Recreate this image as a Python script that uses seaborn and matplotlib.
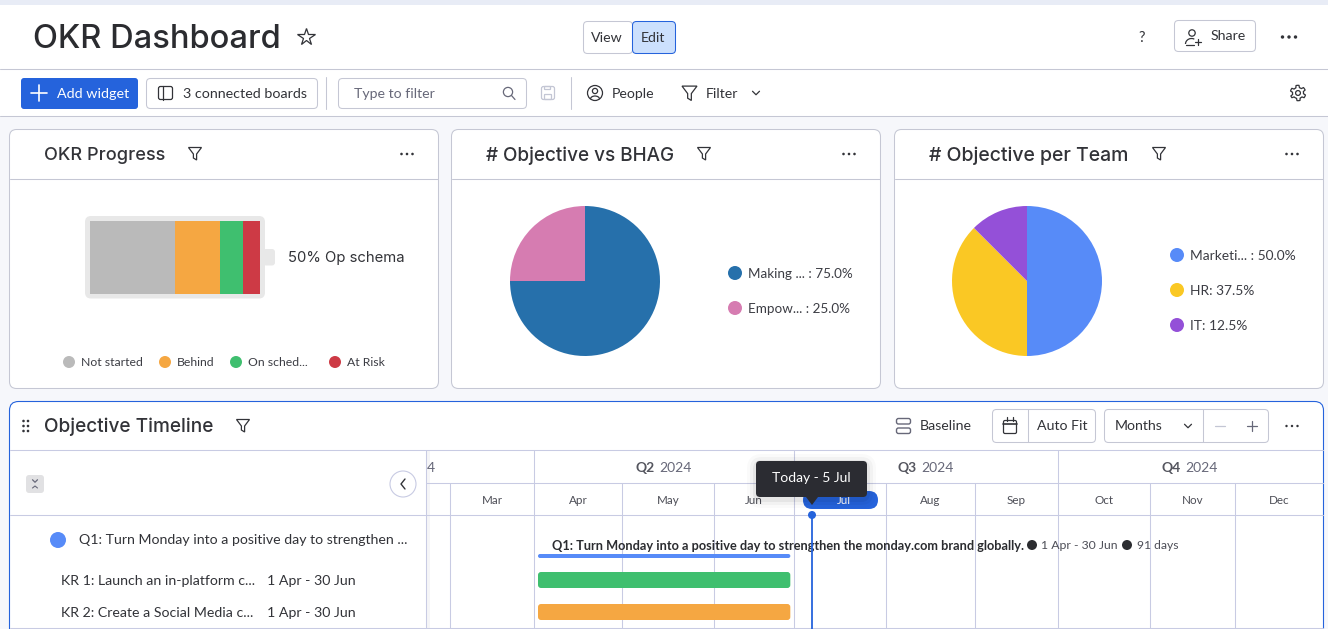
import numpy as np
import pandas as pd
import matplotlib
matplotlib.use("Agg")
import matplotlib.pyplot as plt
import seaborn as sns
from matplotlib.patches import FancyBboxPatch, Circle, Polygon, Arc, Rectangle

# ---------- data ----------
progress_labels = ["Not started", "Behind", "On sched...", "At Risk"]
progress_values = [50, 26.5, 13.5, 10]
progress_colors = ["#bababa", "#f5a742", "#3fbf6f", "#cd3a45"]

bhag_labels = ["Making ... : 75.0%", "Empow... : 25.0%"]
bhag_values = [75, 25]
bhag_colors = ["#2670ab", "#d67cb1"]

team_labels = ["Marketi... : 50.0%", "HR: 37.5%", "IT: 12.5%"]
team_values = [50, 37.5, 12.5]
team_colors = ["#578bf8", "#fac824", "#9450d8"]

month_labels = ["Mar", "Apr", "May", "Jun", "Jul", "Aug", "Sep", "Oct", "Nov", "Dec"]
month_starts = ["2024-03-01", "2024-04-01", "2024-05-01", "2024-06-01", "2024-07-01",
                "2024-08-01", "2024-09-01", "2024-10-01", "2024-11-01", "2024-12-01"]
quarter_starts = ["2024-04-01", "2024-07-01", "2024-10-01"]
quarter_ends = ["2024-07-01", "2024-10-01", "2025-01-01"]
quarter_names = ["Q2", "Q3", "Q4"]
today = "2024-07-05"
task_names = ["Q1", "KR 1", "KR 2"]
task_start = ["2024-04-01", "2024-04-01", "2024-04-01"]
task_end = ["2024-06-30", "2024-06-30", "2024-06-30"]
task_colors = ["#578bf8", "#3fbf6f", "#f5a742"]

# ---------- setup ----------
sns.set_theme(style="white")
FONT = "Lato"
HEAD = "Inter"
plt.rcParams["font.family"] = [FONT, "DejaVu Sans"]
W, H = 1328, 629
INK = "#323338"
GREY = "#676879"
LINE = "#c5c7d4"
GRID = "#c8cbe3"
BLUE = "#2563dc"

fig = plt.figure(figsize=(W / 100, H / 100), dpi=100, facecolor="#f6f7fb")


def px_axes(l, t, r, b, z=1):
    return fig.add_axes([l / W, 1 - b / H, (r - l) / W, (b - t) / H], zorder=z)


def overlay(z):
    a = px_axes(0, 0, W, H, z)
    a.set_xlim(0, W)
    a.set_ylim(H, 0)
    a.axis("off")
    a.patch.set_alpha(0)
    return a


base = overlay(0)
mid = overlay(3)
top = overlay(5)


def box(x0, y0, x1, y1, fc="white", ec="none", r=4, lw=0.75, ax=base, z=1, alpha=None):
    if ec != "none":
        x0, y0, x1, y1 = x0 + 0.5, y0 + 0.5, x1 - 0.5, y1 - 0.5
    p = FancyBboxPatch((x0, y0), x1 - x0, y1 - y0, boxstyle=f"round,pad=0,rounding_size={r}",
                       fc=fc, ec=ec, lw=lw, zorder=z, alpha=alpha)
    ax.add_patch(p)
    return p


def rect(x0, y0, x1, y1, fc, ax=base, z=1):
    ax.add_patch(Rectangle((x0, y0), x1 - x0, y1 - y0, fc=fc, ec="none", zorder=z))


def T(x, y, s, size=10.2, color=INK, ha="left", weight="normal", ax=base, z=5, family=None):
    return ax.text(x, y + 2, s, fontsize=size, color=color, ha=ha, va="center", weight=weight,
                   zorder=z, family=family if family else [FONT, "DejaVu Sans"])


def L(xs, ys, color=LINE, lw=0.75, ax=base, z=2):
    ax.plot(xs, ys, color=color, lw=lw, zorder=z, solid_capstyle="round")


def dot(x, y, r, c, ax=base, z=4):
    ax.add_patch(Circle((x, y), r, fc=c, ec="none", zorder=z))


def dots(x, y, gap=6, r=1.4, c=INK):
    for d in (-gap, 0, gap):
        dot(x + d, y, r, c)


def funnel(x, y, s=1.0, c=INK):
    pts = np.array([(-6.5, -6), (6.5, -6), (1.6, 0.5), (1.6, 6.5), (-1.6, 4.5), (-1.6, 0.5)]) * s
    base.add_patch(Polygon(pts + [x, y], closed=True, fc="none", ec=c, lw=0.9, zorder=4))


def chevron(x, y, s=3.5, c=INK):
    L([x - s, x, x + s], [y - s / 2, y + s / 2, y - s / 2], color=c, lw=0.9, z=4)


def person(x, y, c=INK):
    base.add_patch(Circle((x, y - 4), 3.2, fc="none", ec=c, lw=0.9, zorder=4))
    base.add_patch(Arc((x - 0.5, y + 7), 12, 11, theta1=180, theta2=300, ec=c, lw=0.9, zorder=4))
    L([x - 6.5, x + 2], [y + 7.5, y + 7.5], color=c, lw=0.9, z=4)
    L([x + 3, x + 9], [y + 5, y + 5], color=c, lw=0.9, z=4)
    L([x + 6, x + 6], [y + 2, y + 8], color=c, lw=0.9, z=4)


def gear(x, y, c=INK):
    ang = np.linspace(0, 2 * np.pi, 49)
    rad = 6.6 + 1.1 * np.sign(np.cos(6 * ang))
    base.add_patch(Polygon(np.c_[x + rad * np.sin(ang), y + rad * np.cos(ang)], closed=True,
                           fc="none", ec=c, lw=0.9, zorder=4, joinstyle="round"))
    base.add_patch(Circle((x, y), 2.4, fc="none", ec=c, lw=0.9, zorder=4))


# ---------- page chrome ----------
rect(0, 0, W, 5, "#e8ecf6")
rect(0, 5, W, 116, "white")
L([0, W], [69, 69])
L([0, W], [116, 116])

T(33, 37, "OKR Dashboard", 23.5, "#2b2c30", weight="medium", family=[HEAD, "DejaVu Sans"])
base.plot([306], [37], marker="*", ms=13, mfc="none", mec=INK, mew=0.9, zorder=4)

box(583, 21, 633, 54, ec=LINE)
box(632, 21, 676, 54, fc="#cce0fd", ec=BLUE)
T(607, 35.5, "View", ha="center")
T(653, 35.5, "Edit", ha="center")
T(1142, 36, "?", 10.5, ha="center")
box(1174, 20, 1256, 52, ec=LINE)
person(1192, 37)
T(1211, 33.5, "Share")
dots(1289, 37, gap=6.5, r=1.7)

box(21, 78, 138, 109, fc=BLUE, r=3)
L([31, 47], [93, 93], color="white", lw=1.2, z=4)
L([39, 39], [85, 101], color="white", lw=1.2, z=4)
T(57, 91.5, "Add widget", 10.3, "white")
box(146, 78, 318, 109, ec=LINE)
box(158, 86, 173, 100, fc="none", ec=INK, r=2, lw=0.9, z=4)
L([163, 163], [86, 100], color=INK, lw=0.9, z=4)
T(183, 91.5, "3 connected boards", 10.3)
L([326, 326], [77, 109])
box(338, 78, 527, 109, ec=LINE)
T(354, 91.5, "Type to filter", 10.2, GREY)
base.add_patch(Circle((508, 92), 4.6, fc="none", ec=GREY, lw=0.9, zorder=4))
L([511.5, 515], [95.5, 99.5], color=GREY, lw=0.9, z=4)
box(541, 86, 555, 100, fc="none", ec="#c3c6d4", r=2, lw=0.9, z=4)
box(544, 94, 552, 100, fc="none", ec="#c3c6d4", r=0.5, lw=0.9, z=4)
box(544, 86, 551, 90, fc="none", ec="#c3c6d4", r=0.5, lw=0.9, z=4)
L([571, 571], [77, 109])
base.add_patch(Circle((595, 93), 7.5, fc="none", ec=INK, lw=0.9, zorder=4))
base.add_patch(Circle((595, 91), 2.6, fc="none", ec=INK, lw=0.9, zorder=4))
base.add_patch(Arc((595, 99), 9, 6, theta1=180, theta2=360, ec=INK, lw=0.9, zorder=4))
T(612, 91.5, "People")
funnel(689.5, 93, 1.15)
T(706, 91.5, "Filter")
chevron(756, 93)
gear(1298, 93)

# ---------- cards ----------
cards = [(9, 439), (451, 881), (894, 1324)]
for x0, x1 in cards:
    box(x0, 129, x1, 389, ec=LINE, r=7)
    L([x0 + 1, x1 - 1], [179, 179])

for x, s, size, fx, dx in [(44, "OKR Progress", 13.1, 195, 407),
                           (486, "# Objective vs BHAG", 13.6, 704, 849),
                           (929, "# Objective per Team", 14.0, 1159, 1292)]:
    T(x, 154, s, size, weight="medium", family=[HEAD, "DejaVu Sans"])
    funnel(fx, 153.5)
    dots(dx, 154, gap=5.5, r=1.3)

# battery
box(85, 216, 265, 298.5, fc="#e8e8e8", r=6)
box(263, 249, 275, 265.5, fc="#e8e8e8", r=3)
bat = px_axes(90, 221, 260, 294, 1)
cum = np.cumsum(progress_values)
for v, c in zip(cum[::-1], progress_colors[::-1]):
    sns.barplot(x=[v], y=["OKR Progress"], color=c, saturation=1, width=1, ax=bat, linewidth=0)
bat.set_xlim(0, cum[-1])
bat.set_ylim(0.5, -0.5)
bat.axis("off")
T(287.5, 256, "50% Op schema", 10.7, family=[HEAD, "DejaVu Sans"])
for x, lab, c in zip([69, 165, 236, 335], progress_labels, progress_colors):
    dot(x, 362, 6, c)
    T(x + 12, 360, lab, 8.8, "#3c3d44")

# pies
for cx, vals, cols in [(585, bhag_values, bhag_colors), (1027, team_values, team_colors)]:
    a = px_axes(cx - 75, 206, cx + 75, 356, 1)
    a.pie(vals, colors=sns.color_palette(cols), startangle=90, counterclock=False, radius=1,
          wedgeprops={"linewidth": 0, "edgecolor": "none"})
    a.set_xlim(-1, 1)
    a.set_ylim(-1, 1)
    a.axis("off")
for y, lab, c in zip([273, 308], bhag_labels, bhag_colors):
    dot(735, y, 7, c)
    T(748, y - 1, lab, 9.75, "#3c3d44")
for y, lab, c in zip([255, 290, 325], team_labels, team_colors):
    dot(1177, y, 7, c)
    T(1190, y - 1, lab, 9.9, "#3c3d44")

# ---------- timeline card ----------
base.add_patch(FancyBboxPatch((9.5, 401.5), 1314, 300, boxstyle="round,pad=0,rounding_size=9",
                              fc="white", ec=BLUE, lw=0.8, zorder=1))
rect(0, 629, W, 640, "#f6f7fb", z=1)
L([10, 1323], [628, 628], color=GRID, z=2)
for dx in (23.5, 28):
    for dy in (421, 426, 431):
        dot(dx, dy, 1.3, INK)
T(44, 425, "Objective Timeline", 13.7, weight="medium", family=[HEAD, "DejaVu Sans"])
funnel(243, 425.5)
box(896, 418, 911, 424.5, fc="none", ec=GREY, r=2, lw=1.0, z=4)
box(896, 427.5, 911, 434, fc="none", ec=GREY, r=2, lw=1.0, z=4)
T(920, 424.5, "Baseline")
box(992, 409, 1096, 443, ec=LINE)
L([1028, 1028], [409, 442])
box(1003, 420, 1017, 434, fc="none", ec=INK, r=1.5, lw=0.9, z=4)
L([1003, 1017], [424, 424], color=INK, lw=1.2, z=4)
L([1007, 1007], [417, 421], color=INK, lw=0.9, z=4)
L([1013, 1013], [417, 421], color=INK, lw=0.9, z=4)
T(1037, 423.5, "Auto Fit")
box(1104, 409, 1269, 443, ec=LINE)
L([1203, 1203], [409, 442])
T(1115, 423.5, "Months")
chevron(1188, 426)
L([1215, 1225], [426, 426], color="#c3c6d4", lw=0.9, z=4)
L([1247, 1257], [426, 426], color=GREY, lw=0.9, z=4)
L([1252, 1252], [421, 431], color=GREY, lw=0.9, z=4)
dots(1292, 426, gap=5.5, r=1.2)

L([10, 1323], [450, 450], color=GRID)
L([426, 1323], [483, 483], color=GRID)
L([10, 1323], [515, 515], color=GRID)
L([425.5, 425.5], [450, 628], color=GRID)
rect(426, 451, 430, 628, "#f5f5f7", z=1)

box(26, 475, 44, 493, fc="#e1e1e3", r=3)
chevron(35, 481, 2.5, GREY)
L([32.5, 35, 37.5], [488, 486, 488], color=GREY, lw=0.8, z=4)
base.add_patch(Circle((403, 484), 13, fc="white", ec=GRID, lw=0.8, zorder=3))
L([405, 401, 405], [479, 484, 489], color=INK, lw=1.0, z=4)

dot(58, 540, 8, task_colors[0])
T(79, 537.5, "Q1: Turn Monday into a positive day to strengthen ...", 10.2)
T(61, 579, "KR 1: Launch an in-platform c...", 10.2)
T(267, 579, "1 Apr - 30 Jun", 10.2)
T(61, 611, "KR 2: Create a Social Media c...", 10.2)
T(267, 611, "1 Apr - 30 Jun", 10.2)

# ---------- gantt axes (date scale as displayed on the board) ----------
d0 = pd.Timestamp("2024-01-01")


def days(s):
    return (pd.Timestamp(s) - d0).days


knot_days = np.array([days(s) for s in ["2024-02-23", "2024-03-01", "2024-04-01", "2024-05-01",
                                        "2024-06-01", "2024-07-01", today, "2024-08-01",
                                        "2024-09-01", "2024-10-01", "2024-11-01", "2024-12-01",
                                        "2025-01-01"]], dtype=float)
knot_px = np.array([426, 450, 534, 622, 713.5, 794, 812, 886, 974.5, 1058, 1150, 1234.5, 1323],
                   dtype=float)


def fwd(v):
    return np.interp(v, knot_days, knot_px)


def inv(v):
    return np.interp(v, knot_px, knot_days)


tl = px_axes(426, 515, 1323, 629, 2)
tl.patch.set_alpha(0)
tl.set_xscale("function", functions=(fwd, inv))
tl.set_xlim(knot_days[0], knot_days[-1])
tl.set_ylim(629, 515)
for s in tl.spines.values():
    s.set_visible(False)
tl.tick_params(axis="y", left=False, labelleft=False)

starts = [days(s) for s in month_starts]
nexts = starts[1:] + [days("2025-01-01")]
mids = [(a + b) / 2 for a, b in zip(starts, nexts)]
tl.set_xticks(mids, labels=month_labels)
tl.minorticks_off()
tl.xaxis.tick_top()
tl.tick_params(axis="x", length=0, pad=6.5, labelsize=8.4, labelcolor="#4d4e57")
for lab, name in zip(tl.get_xticklabels(), month_labels):
    lab.set_fontfamily([FONT, "DejaVu Sans"])
    if name == "Jul":
        lab.set_color("white")
qdays = {days(s) for s in quarter_starts}
for m in starts:
    tl.vlines(m, 450 if m in qdays else 483, 629, color=GRID, lw=0.75, clip_on=False, zorder=1)


def xp(day):
    return tl.transData.transform((day, 515))[0]


for q, nm, e in zip(quarter_starts, quarter_names, quarter_ends):
    c = (xp(days(q)) + xp(days(e))) / 2
    T(c - 9.5, 465.5, nm, 10, "#55565f", ha="right", weight="bold")
    T(c - 5, 465.5, "2024", 10, "#676879")
T(426.5, 465.5, "4", 10, "#676879")

box(803, 491, 878, 509, fc=BLUE, r=9)

# task bars through the date scale
for i, (a, b, c) in enumerate(zip(task_start, task_end, task_colors)):
    x0 = xp(days(a)) + 4
    x1 = xp(days(b)) - 1
    if i == 0:
        box(x0, 554, x1, 558, fc=c, r=2, ax=mid, z=2)
    else:
        y = [572, 604][i - 1]
        box(x0, y, x1, y + 16, fc=c, r=3, ax=mid, z=2)

T(552, 543.5, "Q1: Turn Monday into a positive day to strengthen the monday.com brand globally.",
  9.15, "#2b2c30", weight="bold", ax=mid)
dot(1032, 545, 5, "#2b2c30", ax=mid)
T(1041, 543.5, "1 Apr - 30 Jun", 8.8, "#4d4e57", ax=mid)
dot(1127, 545, 5, "#2b2c30", ax=mid)
T(1137, 543.5, "91 days", 8.7, "#4d4e57", ax=mid)

# today marker and tooltip
xt = xp(days(today))
top.plot([xt, xt], [515, 629], color=BLUE, lw=1.3, zorder=3, solid_capstyle="butt")
dot(xt, 515, 4, BLUE, ax=top)
for g, al in [(9, 0.02), (6, 0.03), (3, 0.05)]:
    box(756 - g, 461 - g + 2, 867 + g, 497 + g + 2, fc="black", r=6 + g, ax=top, z=1, alpha=al)
box(756, 461, 867, 497, fc="#2b2c32", r=4, ax=top, z=2)
top.add_patch(Polygon([(xt - 6, 497), (xt + 6, 497), (xt, 505)], fc="#2b2c32", ec="none", zorder=2))
T(811.5, 476.5, "Today - 5 Jul", 10, "white", ha="center", ax=top)

fig.savefig("out.png", dpi=100, facecolor=fig.get_facecolor())
